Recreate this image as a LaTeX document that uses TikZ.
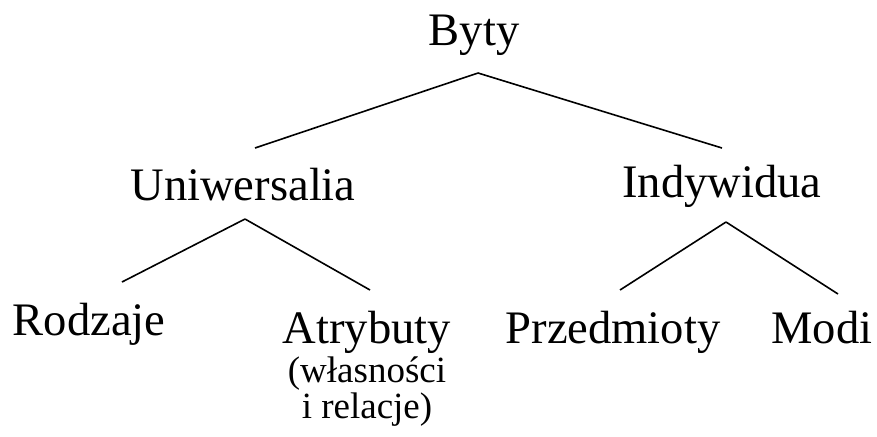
\documentclass[tikz,border=0pt]{standalone}
\usepackage{fontspec}
\setmainfont{Liberation Serif}
\begin{document}
\begin{tikzpicture}[x=0.5pt,y=-0.5pt,line width=0.8pt,-]
    \tikzstyle{term}=[anchor=base,inner sep=0pt,font=\fontsize{23.3}{28}\selectfont]
    \tikzstyle{note}=[anchor=base,inner sep=0pt,align=center,font=\fontsize{18.5}{15.5}\selectfont]
    \useasboundingbox (0,0) rectangle (877,436);

    \node[term] (Byty) at (474,45) {Byty};
    \node[term] (Uni) at (243,200) {Uniwersalia};
    \node[term] (Ind) at (722,197) {Indywidua};
    \foreach \name/\x/\y/\txt in {Rod/89/335/Rodzaje, Atr/367/343/Atrybuty, Prz/613/343/Przedmioty, Mod/822/343/Modi}
            \node[term] (\name) at (\x,\y) {\txt};
    \node[note] (Atr-note) at (367,418) {(własności\\i relacje)};

    % forks under the parents, free ends above the children
    \foreach \name/\x/\y in {Byty-fork/478/73, Uni-end/255/148, Ind-end/722/148,
                             Uni-fork/245/219, Rod-end/122/282, Atr-end/370/290,
                             Ind-fork/726/222, Prz-end/620/290, Mod-end/838/294}
            \coordinate (\name) at (\x,\y);

        \foreach \from/\to in {Byty/Uni, Byty/Ind, Uni/Rod, Uni/Atr, Ind/Prz, Ind/Mod}
            \draw (\from-fork) -- (\to-end);
\end{tikzpicture}
\end{document}
